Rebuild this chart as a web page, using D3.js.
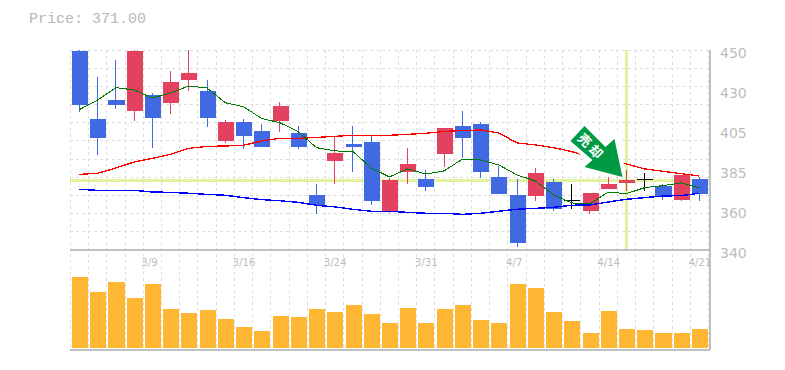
<!DOCTYPE html>
<html>
<head>
<meta charset="utf-8">
<script src="https://cdn.jsdelivr.net/npm/d3@7/dist/d3.min.js"></script>
<style>
html, body { margin: 0; padding: 0; background: #fff; }
svg { display: block; }
.tick line { display: none; }
</style>
</head>
<body>
<div id="chart"></div>
<script>
var dates = ["3/3","3/4","3/5","3/6","3/9","3/10","3/11","3/12","3/13","3/16","3/17","3/18","3/19","3/23","3/24","3/25","3/26","3/27","3/30","3/31","4/1","4/2","4/3","4/6","4/7","4/8","4/9","4/10","4/13","4/14","4/15","4/16","4/17","4/20","4/21"];
var dateLabels = ["3/9","3/16","3/24","3/31","4/7","4/14","4/21"];
var open = [449.5,412,422.5,416.5,425.3,421,433.5,427.5,400,410.4,405.5,411.1,404.4,370.3,389.1,398.3,399.4,360.9,382.9,379,392.8,408.2,409.3,380,370.3,369.7,377.4,367.5,361.5,373.6,376.9,379,375.2,367.5,379];
var close = [419.8,401.6,419.8,449.5,412.8,432.4,437.4,412.8,410.4,402.9,396.8,419.2,396.8,364.8,393.4,396.7,367,378.5,387.3,374.7,407.1,401.6,382.9,370.8,343.9,382.4,362.6,367.5,371.4,376.3,378.5,379,369.7,381.3,370.8];
var high = [450,435.2,444.5,450,426.4,438.5,450,433.5,411.5,412,409.3,421.4,408.2,376.3,402.3,408.2,403.3,379.6,396.1,384,407.1,416.5,410.4,386.2,379,385.1,379,376.3,371.4,380.3,384,382.4,376.3,381.3,380];
var low = [415.9,392.3,417.7,411,396.1,415,427.6,407.8,399,395.6,396.6,405,395.7,359.8,376.3,382.9,364.8,360.4,376.3,372.5,385.8,390.6,379.6,370.8,341.8,367,361.5,362.7,359.8,373.6,372.5,372.6,367.5,367,367];
var volume = [71,56,66,50,64,39,35,38,29,21,17,32,31,39,36,43,34,25,40,25,39,43,28,25,64,60,36,27,15,37,19,18,15,15,19];
var maShort = [417.2,422.5,429.3,428,423.6,426.4,430.2,429.1,421,418.8,412.3,410,405.1,396.3,394.5,394.2,385.1,380.2,384.6,381.8,383.5,390,389.5,386.8,381.3,378,370.3,365.9,365.3,371.9,371,374.3,375.4,376.9,374.1];
var maMid = [381.6,382.2,385.1,388.4,390.4,392.6,395.9,397,397.2,397.6,400,401.4,401.4,401.9,402.5,403.1,403.1,403.1,403.6,404.2,405.2,405.7,406,404.4,398.9,397.8,396.3,394.1,391.2,389.5,387.3,384.6,383.3,382,380.7];
var maLong = [373.4,372.8,372.8,372.8,371.9,371.7,371.2,370.6,370.1,368.8,367.7,367.1,366.2,364.6,363.7,362.4,361.3,361.3,360.7,360.2,360.2,359.6,360.2,361.3,362.4,362.9,363.5,364.6,364.8,366.4,367.9,368.8,369.7,369.9,371.2];
var priceTicks = [450,428,406,384,362,340];
var priceLabels = ["450","430","405","385","360","340"];
var currentPrice = "371.00";
var lineLevel = 378;
var signalDate = "4/15";
var signalText = "売却";

var left = 70.3, right = 708.5, axisX = 710;
var priceTop = 50, priceBottom = 250, volTop = 250, volBottom = 348, frameBottom = 350;

var svg = d3.select("#chart").append("svg")
    .attr("width", 785)
    .attr("height", 370);

var x = d3.scaleBand().domain(dates).range([left, right]);
var y = d3.scaleLinear().domain([340, 450]).range([priceBottom, priceTop]);
var yVol = d3.scaleLinear().domain([0, 98]).range([volBottom, volTop]);

svg.append("text")
    .attr("x", 29)
    .attr("y", 23)
    .attr("font-family", "'Liberation Mono', monospace")
    .attr("font-size", 15)
    .attr("fill", "#b8b8b8")
    .text("Price: " + currentPrice);

// grid
var grid = svg.append("g")
    .attr("stroke", "#dedede")
    .attr("stroke-dasharray", "3 3")
    .attr("shape-rendering", "crispEdges");
grid.selectAll(".hgrid")
    .data(d3.range(350, 451, 10))
  .enter().append("line")
    .attr("class", "hgrid")
    .attr("x1", left)
    .attr("x2", axisX)
    .attr("y1", function(d) { return y(d); })
    .attr("y2", function(d) { return y(d); });
grid.selectAll(".vgrid")
    .data(dates.concat(["end"]))
  .enter().append("line")
    .attr("class", "vgrid")
    .attr("x1", function(d) { return d === "end" ? right : x(d); })
    .attr("x2", function(d) { return d === "end" ? right : x(d); })
    .attr("y1", priceTop)
    .attr("y2", frameBottom);

// marker lines
svg.append("line")
    .attr("x1", left)
    .attr("x2", axisX - 1)
    .attr("y1", y(lineLevel) - 0.4)
    .attr("y2", y(lineLevel) - 0.4)
    .attr("stroke", "#e2f2a0")
    .attr("stroke-width", 3.4)
    .attr("shape-rendering", "crispEdges");
svg.append("line")
    .attr("x1", x(signalDate) + x.bandwidth() / 2)
    .attr("x2", x(signalDate) + x.bandwidth() / 2)
    .attr("y1", priceTop)
    .attr("y2", priceBottom - 1)
    .attr("stroke", "#e2f2a0")
    .attr("stroke-width", 3)
    .attr("shape-rendering", "crispEdges");

// frame
var frame = svg.append("g")
    .attr("stroke", "#c0c0c0")
    .attr("stroke-width", 1.5)
    .attr("shape-rendering", "crispEdges");
frame.append("line").attr("x1", left).attr("x2", axisX).attr("y1", priceBottom).attr("y2", priceBottom);
frame.append("line").attr("x1", left).attr("x2", axisX).attr("y1", frameBottom).attr("y2", frameBottom);
frame.append("line").attr("x1", axisX).attr("x2", axisX).attr("y1", priceTop).attr("y2", frameBottom);

// candles
var candleColor = function(i) {
  if (open[i] === close[i]) return "#000";
  return close[i] > open[i] ? "#e2415f" : "#4169e1";
};
var center = function(i) { return x(dates[i]) + x.bandwidth() / 2; };
var candles = svg.append("g").attr("shape-rendering", "crispEdges");
candles.selectAll(".wick")
    .data(dates)
  .enter().append("line")
    .attr("class", "wick")
    .attr("x1", function(d, i) { return center(i); })
    .attr("x2", function(d, i) { return center(i); })
    .attr("y1", function(d, i) { return y(high[i]); })
    .attr("y2", function(d, i) { return y(low[i]); })
    .attr("stroke", function(d, i) { return candleColor(i); });
candles.selectAll(".body")
    .data(dates)
  .enter().append("rect")
    .attr("class", "body")
    .attr("x", function(d) { return x(d) + 1.7; })
    .attr("width", x.bandwidth() - 2.2)
    .attr("y", function(d, i) { return y(Math.max(open[i], close[i])); })
    .attr("height", function(d, i) { return Math.max(1, Math.abs(y(open[i]) - y(close[i]))); })
    .attr("fill", function(d, i) { return candleColor(i); });

// moving averages
var maLine = d3.line()
    .x(function(d, i) { return center(i); })
    .y(function(d) { return y(d); });
svg.append("path").attr("d", maLine(maMid)).attr("fill", "none")
    .attr("stroke", "#f00").attr("stroke-width", 1.3).attr("shape-rendering", "crispEdges");
svg.append("path").attr("d", maLine(maLong)).attr("fill", "none")
    .attr("stroke", "#00f").attr("stroke-width", 1.4).attr("shape-rendering", "crispEdges");
svg.append("path").attr("d", maLine(maShort)).attr("fill", "none")
    .attr("stroke", "#007a00").attr("stroke-width", 1).attr("shape-rendering", "crispEdges");

// volume
svg.append("g").selectAll("rect")
    .data(dates)
  .enter().append("rect")
    .attr("x", function(d) { return x(d) + 1.7; })
    .attr("width", x.bandwidth() - 2.2)
    .attr("y", function(d, i) { return yVol(volume[i]); })
    .attr("height", function(d, i) { return volBottom - yVol(volume[i]); })
    .attr("fill", "#ffb733")
    .attr("shape-rendering", "crispEdges");

// axes
var axisFont = "'DejaVu Sans', sans-serif";
var xAxis = svg.append("g")
    .attr("transform", "translate(0," + priceBottom + ")")
    .call(d3.axisBottom(x).tickValues(dateLabels).tickSize(0).tickPadding(9));
xAxis.select(".domain").remove();
xAxis.selectAll("text")
    .attr("text-anchor", "start")
    .attr("dx", -11)
    .attr("font-family", axisFont)
    .attr("font-size", 10.2)
    .attr("fill", "#bdbdbd");
var yAxis = svg.append("g")
    .attr("transform", "translate(" + axisX + ",0)")
    .call(d3.axisRight(y).tickValues(priceTicks).tickSize(0).tickPadding(10)
      .tickFormat(function(d, i) { return priceLabels[i]; }));
yAxis.select(".domain").remove();
yAxis.selectAll("text")
    .attr("dy", "0.57em")
    .attr("font-family", axisFont)
    .attr("font-size", 14)
    .attr("fill", "#bdbdbd");

// sell signal arrow, placed from its tip
var tipX = center(dates.indexOf(signalDate)) - 4;
var tipY = y(lineLevel) - 4;
var arrowPts = [[-38,-51],[-52,-36],[-30,-17],[-38,-10],[0,0],[-8,-38],[-17,-30]];
var arrowD = "M" + arrowPts.map(function(p) { return (tipX + p[0]) + "," + (tipY + p[1]); }).join("L") + "Z";
svg.append("clipPath").attr("id", "halo-clip")
  .append("rect")
    .attr("x", 0).attr("y", 0)
    .attr("width", tipX + 1.5).attr("height", tipY - 2);
svg.append("path")
    .attr("d", arrowD)
    .attr("fill", "#fff")
    .attr("stroke", "#fff")
    .attr("stroke-width", 8)
    .attr("clip-path", "url(#halo-clip)");
svg.append("path")
    .attr("d", arrowD)
    .attr("fill", "#009a44");
svg.append("text")
    .attr("transform", "translate(" + (tipX - 31) + "," + (tipY - 30) + ") rotate(45)")
    .attr("text-anchor", "middle")
    .attr("dy", "0.38em")
    .attr("font-family", "'Noto Sans CJK JP', sans-serif")
    .attr("font-weight", "bold")
    .attr("font-size", 13)
    .attr("letter-spacing", 3)
    .attr("fill", "#fff")
    .text(signalText);
</script>
</body>
</html>
